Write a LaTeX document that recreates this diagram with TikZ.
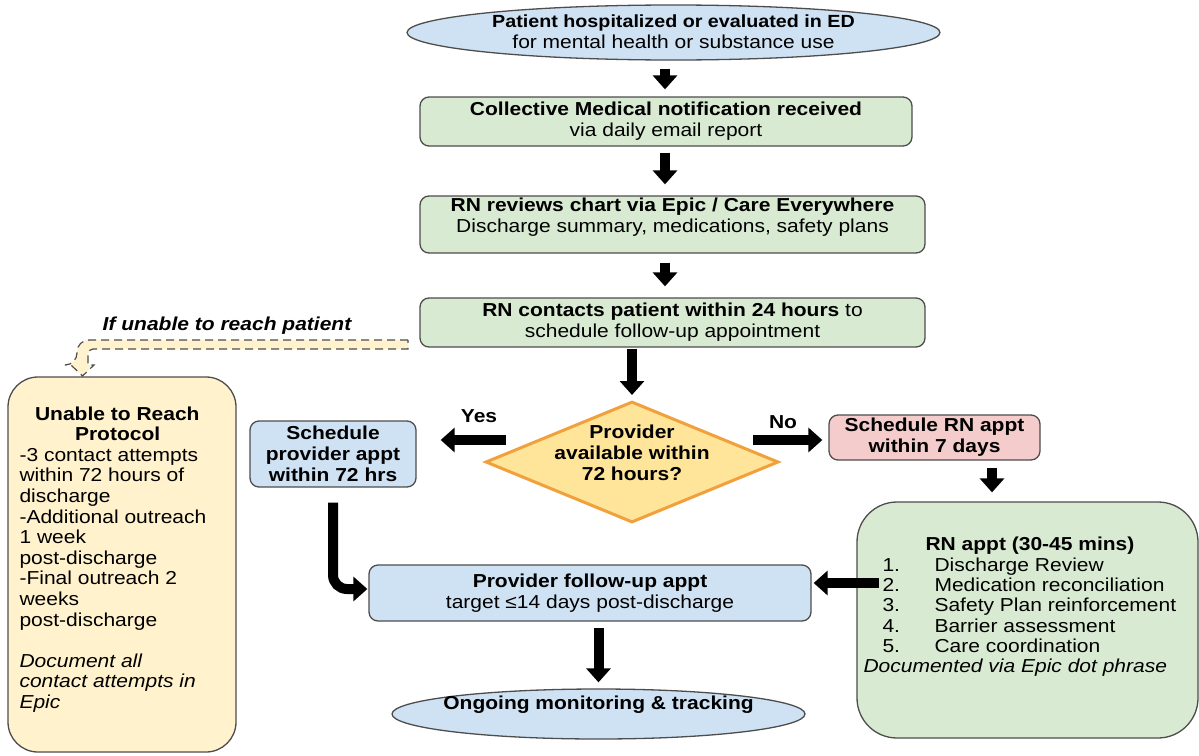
\documentclass[tikz,border=0pt]{standalone}
\usepackage{fontspec}
\setmainfont{Liberation Sans}[FakeStretch=1.12]
\usetikzlibrary{arrows.meta,shapes.geometric}
\definecolor{bluef}{HTML}{CFE2F3}
\definecolor{greenf}{HTML}{D9EAD3}
\definecolor{pinkf}{HTML}{F4CCCC}
\definecolor{yellowf}{HTML}{FFE599}
\definecolor{creamf}{HTML}{FFF2CC}
\definecolor{orangeb}{HTML}{F1A03C}
\definecolor{bord}{HTML}{4D4D4D}
\newcommand\fsz{\fontsize{18.75}{20.8}\selectfont}
\newcommand\fszb{\fontsize{18.75}{20.5}\selectfont}
\begin{document}
\begin{tikzpicture}[x=1pt,y=-1pt,
  every node/.style={font=\fsz},
  box/.style={draw=bord, line width=1.3pt, rounded corners=9pt, inner sep=0pt},
  ell/.style={ellipse, draw=bord, line width=1.3pt, fill=bluef, inner sep=0pt},
  txt/.style={align=center, inner sep=0pt},
  ltxt/.style={align=left, inner sep=0pt, anchor=west, font=\fszb},
  blk/.style={line width=10pt, -{Triangle[width=24pt,length=14pt]}},
  dsh/.style={draw=bord, fill=creamf, line width=1.2pt, dash pattern=on 8pt off 5pt},
]
\useasboundingbox (0,0) rectangle (1199,755);

% main column
\node[ell, minimum width=533pt, minimum height=55pt] (top) at (673.5,32.5) {};
\node[txt] (topt) at ([yshift=1pt]top.center) {{\fontsize{17.6}{20.8}\selectfont\textbf{Patient hospitalized or evaluated in ED}}\\for mental health or substance use};

\node[box, fill=greenf, minimum width=492pt, minimum height=49pt] (b2) at (666,121.5) {};
\node[txt] (b2t) at (b2.center) {\textbf{Collective Medical notification received}\\via daily email report};

\node[box, fill=greenf, minimum width=505pt, minimum height=57pt] (b3) at (672.5,224.5) {};
\node[txt] (b3t) at ([yshift=7pt]b3.center) {\textbf{RN reviews chart via Epic / Care Everywhere}\\Discharge summary, medications, safety plans};

\node[box, fill=greenf, minimum width=505pt, minimum height=49pt] (b4) at (672.5,322.5) {};
\node[txt] (b4t) at (b4.center) {\textbf{RN contacts patient within 24 hours} to\\schedule follow-up appointment};

\node[diamond, draw=orangeb, line width=3pt, fill=yellowf, minimum width=293pt, minimum height=121pt, inner sep=0pt] (dm) at (632,462) {};
\node[txt, font=\fsz\bfseries] (dmt) at ([yshift=9pt]dm.center) {Provider\\available within\\72 hours?};

\node[box, fill=bluef, minimum width=166pt, minimum height=66pt] (sp) at (333,454) {};
\node[txt, font=\fsz\bfseries] (spt) at (sp.center) {Schedule\\provider appt\\within 72 hrs};

\node[box, fill=pinkf, minimum width=211pt, minimum height=45pt] (sr) at (934.5,437.5) {};
\node[txt, font=\fsz\bfseries] (srt) at (sr.center) {Schedule RN appt\\within 7 days};

\node[box, fill=greenf, rounded corners=40pt, minimum width=341pt, minimum height=236pt] (rn) at (1027.5,620) {};
\node[ltxt, font=\fontsize{18.75}{20.3}\selectfont] (rnt) at ([xshift=7pt,yshift=13pt]rn.west) {\hspace*{62pt}\textbf{RN appt (30-45 mins)}\\
\makebox[71pt][l]{\hspace*{19pt}1.}Discharge Review\\
\makebox[71pt][l]{\hspace*{19pt}2.}Medication reconciliation\\
\makebox[71pt][l]{\hspace*{19pt}3.}Safety Plan reinforcement\\
\makebox[71pt][l]{\hspace*{19pt}4.}Barrier assessment\\
\makebox[71pt][l]{\hspace*{19pt}5.}Care coordination\\
\textit{Documented via Epic dot phrase}};

\node[box, fill=bluef, minimum width=442pt, minimum height=56pt] (fu) at (590,593) {};
\node[txt] (fut) at (fu.center) {\textbf{Provider follow-up appt}\\target ≤14 days post-discharge};

\node[ell, minimum width=413pt, minimum height=50pt] (og) at (598.5,714) {};
\node[txt, font=\fsz\bfseries] (ogt) at ([yshift=9pt]og.center) {Ongoing monitoring \& tracking};

\node[box, fill=creamf, rounded corners=30pt, minimum width=228pt, minimum height=375pt] (un) at (122,564.5) {};
\node[ltxt, font=\fontsize{18.75}{20.6}\selectfont] (unt) at ([xshift=12pt,yshift=5pt]un.west) {\hspace*{15.5pt}\textbf{Unable to Reach}\\
\hspace*{55.5pt}\textbf{Protocol}\\
-3 contact attempts\\
within 72 hours of\\
discharge\\
-Additional outreach\\
1 week\\
post-discharge\\
-Final outreach 2\\
weeks\\
post-discharge\\[20.6pt]
\textit{Document all}\\
\textit{contact attempts in}\\
\textit{Epic}};

% labels
\node[txt, font=\fsz\bfseries] (yes) at (479,416) {Yes};
\node[txt, font=\fsz\bfseries] (no) at (783,422) {No};
\node[txt, font=\fsz\bfseries\itshape] (ifl) at (227,326) {If unable to reach patient};

% dashed hollow bent arrow
\coordinate (d0) at (408,340);
\filldraw[dsh] (d0) [rounded corners=12pt] -- (77,340) -- (77,365) [sharp corners] -- (71,365) -- (82.5,376) -- (94,365) -- (88,365) [rounded corners=5pt] -- (88,349) [sharp corners] -- (408,349) -- cycle;

% block arrows
\coordinate (c1) at (665,0);
\draw[blk, shorten <=8pt, shorten >=7pt] (top.south -| c1) -- (b2.north -| c1);
\draw[blk, shorten <=6pt, shorten >=11pt] (b2.south -| c1) -- (b3.north -| c1);
\draw[blk, shorten <=9pt, shorten >=11pt] (b3.south -| c1) -- (b4.north -| c1);
\draw[blk, shorten <=1pt, shorten >=5pt] (b4.south -| dm.north) -- (dm.north);

\coordinate (ys) at (506,440);
\draw[blk, shorten >=24pt] (ys) -- (ys -| sp.east);
\coordinate (ns) at (753,440);
\draw[blk, shorten >=6pt] (ns) -- (ns -| sr.west);

\coordinate (c2) at (992,0);
\draw[blk, shorten <=7pt, shorten >=9pt] (sr.south -| c2) -- (rn.north -| c2);

\coordinate (c3) at (0,583);
\draw[blk, shorten <=-23pt, shorten >=2pt] (rn.west |- c3) -- (fu.east |- c3);

\draw[blk, rounded corners=14pt, shorten <=15pt, shorten >=1pt] (sp.south) |- ([yshift=4pt]fu.west);

\draw[blk, shorten <=6pt, shorten >=6pt] (og.north |- fu.south) -- (og.north);
\end{tikzpicture}
\end{document}
